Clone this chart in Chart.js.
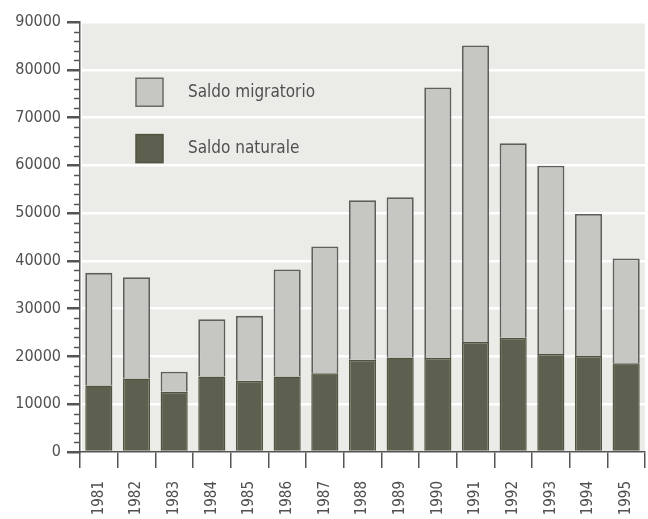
<!DOCTYPE html>
<html>
<head>
<meta charset="utf-8">
<script src="https://cdn.jsdelivr.net/npm/chart.js@4/dist/chart.umd.min.js"></script>
<style>
html,body{margin:0;padding:0;background:#ffffff;}
#wrap{width:648px;height:519px;position:relative;}
</style>
</head>
<body>
<div id="wrap"><canvas id="c" width="648" height="519"></canvas></div>
<script>
const years = ['1981','1982','1983','1984','1985','1986','1987','1988','1989','1990','1991','1992','1993','1994','1995'];
const totals = [37500,36600,16800,27800,28500,38200,43000,52700,53300,76300,85100,64600,59900,49800,40500];
const saldoNaturale = [13900,15400,12600,15800,14900,15800,16500,19300,19800,19700,23000,23900,20500,20100,18600];
const saldoMigratorio = totals.map((t,i)=>t - saldoNaturale[i]);
const yTicks = [0,10000,20000,30000,40000,50000,60000,70000,80000,90000];
const legendLabels = ['Saldo migratorio','Saldo naturale'];

const FONT = "'DejaVu Sans Condensed', 'Liberation Sans Narrow', sans-serif";

const bgPlugin = {
  id:'bg',
  beforeDraw(chart){
    const {ctx, chartArea:a} = chart;
    ctx.save();
    ctx.fillStyle = '#ebece8';
    ctx.fillRect(a.left+2, a.top, a.right-a.left-2, a.bottom-a.top);
    ctx.restore();
  }
};

const extrasPlugin = {
  id:'extras',
  afterDraw(chart){
    const {ctx, chartArea:a, scales} = chart;
    const y = scales.y;
    ctx.save();
    ctx.strokeStyle = '#555';
    ctx.lineWidth = 1.5;
    for (let v = 0; v <= 90000; v += 2000){
      if (v % 10000 === 0) continue;
      const py = Math.round(y.getPixelForValue(v)) + 0.5;
      ctx.beginPath(); ctx.moveTo(a.left-6, py); ctx.lineTo(a.left, py); ctx.stroke();
    }
    const ds = chart.data.datasets;
    const items = [
      {label: legendLabels[0], color: ds[1].backgroundColor, border:'#6a6a66', val: 75300},
      {label: legendLabels[1], color: ds[0].backgroundColor, border:'#50533f', val: 63500}
    ];
    ctx.font = "17px " + FONT;
    ctx.textBaseline = 'middle';
    items.forEach(it=>{
      const cy = y.getPixelForValue(it.val);
      ctx.fillStyle = it.color;
      ctx.fillRect(136, cy-14, 27, 28);
      ctx.strokeStyle = it.border;
      ctx.lineWidth = 1.5;
      ctx.strokeRect(136, cy-14, 27, 28);
      ctx.fillStyle = '#505050';
      ctx.fillText(it.label, 188, cy);
    });
    ctx.restore();
  }
};

new Chart(document.getElementById('c'), {
  type:'bar',
  data:{
    labels: years,
    datasets:[
      {label: legendLabels[1], data: saldoNaturale, backgroundColor:'#5d604f', borderColor:'#50533f', borderWidth:1.5, barPercentage:0.72, categoryPercentage:1.0},
      {label: legendLabels[0], data: saldoMigratorio, backgroundColor:'#c6c7c2', borderColor:'#5e5e5a', borderWidth:1.8, barPercentage:0.72, categoryPercentage:1.0}
    ]
  },
  options:{
    responsive:false,
    animation:false,
    devicePixelRatio:1,
    layout:{padding:{left:12, right:3, top:22, bottom:0}},
    plugins:{legend:{display:false}, tooltip:{enabled:false}},
    scales:{
      x:{
        stacked:true,
        offset:true,
        afterFit(scale){ scale.paddingRight = 0; scale.paddingLeft = 0; scale.height = 67; },
        border:{display:true, color:'#555', width:1.5},
        grid:{display:true, drawOnChartArea:false, offset:true, color:'#555', tickLength:16, lineWidth:1.5},
        ticks:{minRotation:90, maxRotation:90, color:'#505050', font:{family:FONT, size:15}, padding:13}
      },
      y:{
        stacked:true,
        min:0, max:90000,
        afterBuildTicks(scale){ scale.ticks = yTicks.map(v=>({value:v})); },
        afterFit(scale){ scale.paddingTop = 0; scale.paddingBottom = 0; scale.width = 68; },
        border:{display:true, color:'#555', width:1.5},
        grid:{
          color:(c)=> (c.tick && c.tick.value===0) ? 'rgba(0,0,0,0)' : '#ffffff',
          lineWidth:2.5,
          tickColor:'#555',
          tickLength:13,
          drawTicks:true
        },
        ticks:{color:'#505050', font:{family:FONT, size:16}, padding:6, callback:(v)=>String(v)}
      }
    }
  },
  plugins:[bgPlugin, extrasPlugin]
});
</script>
</body>
</html>
